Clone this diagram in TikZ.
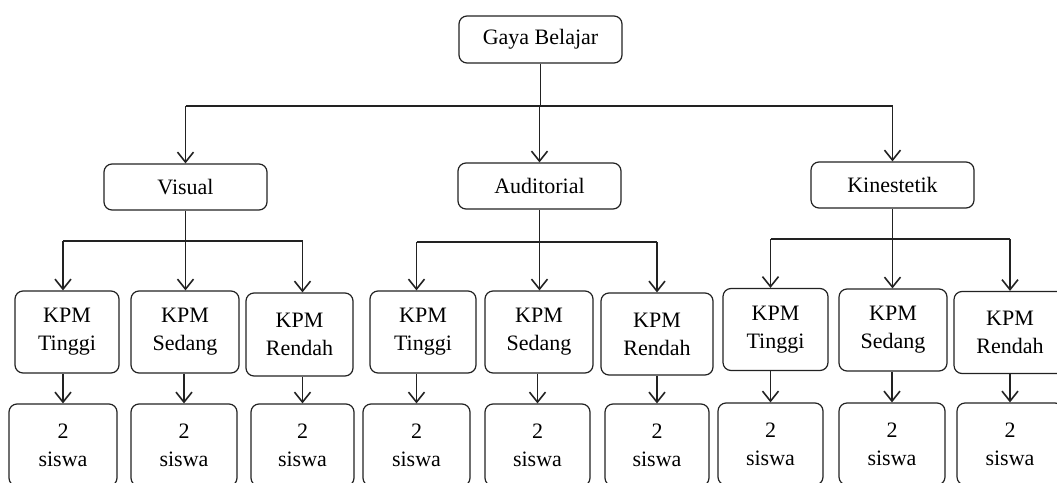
\documentclass[tikz,border=0pt]{standalone}
\usepackage{fontspec}
\setmainfont{Liberation Serif}
\usetikzlibrary{arrows.meta}
\definecolor{ln}{HTML}{222222}
\begin{document}
\begin{tikzpicture}[x=1pt,y=-1pt,
  box/.style={draw=ln,line width=1.2pt,rounded corners=8pt,inner sep=0pt,
    align=center,font=\fontsize{22}{28}\selectfont,text=black},
  top/.style={box,minimum width=163pt,minimum height=46pt},
  kpm/.style={box,minimum height=82pt},
  res/.style={box,minimum height=82pt},
  line/.style={draw=ln,line width=1.6pt},
  arr/.style={line,-{Straight Barb[length=10pt,width=16pt,line width=1.6pt]}}]
\useasboundingbox (0,0) rectangle (1057,482);
\clip (0,0) rectangle (1057,482);
% level 0 and 1
\node[top,minimum height=47pt] (g) at (540.5,39.5) {Gaya Belajar};
\node[top] (v) at (185.5,187) {Visual};
\node[top] (a) at (539.5,186) {Auditorial};
\node[top] (k) at (892.5,185) {Kinestetik};
% KPM boxes
\node[kpm,minimum width=104pt] (vt) at (67,332) {KPM\\Tinggi};
\node[kpm,minimum width=108pt] (vs) at (185,332) {KPM\\Sedang};
\node[kpm,minimum width=107pt,minimum height=83pt] (vr) at (299.5,334.5) {KPM\\Rendah};
\node[kpm,minimum width=106pt] (at) at (423,332) {KPM\\Tinggi};
\node[kpm,minimum width=108pt] (as) at (539,332) {KPM\\Sedang};
\node[kpm,minimum width=112pt] (ar) at (657,334) {KPM\\Rendah};
\node[kpm,minimum width=105pt] (kt) at (775.5,329.5) {KPM\\Tinggi};
\node[kpm,minimum width=108pt] (ks) at (893,330) {KPM\\Sedang};
\node[kpm,minimum width=112pt] (kr) at (1010,332.5) {KPM\\Rendah};
% result boxes
\node[res,minimum width=108pt] (vtb) at (63,445) {2\\siswa};
\node[res,minimum width=106pt] (vsb) at (184,445) {2\\siswa};
\node[res,minimum width=103pt] (vrb) at (302.5,445) {2\\siswa};
\node[res,minimum width=107pt] (atb) at (416.5,445) {2\\siswa};
\node[res,minimum width=105pt] (asb) at (537.5,445) {2\\siswa};
\node[res,minimum width=104pt] (arb) at (657,445) {2\\siswa};
\node[res,minimum width=105pt] (ktb) at (770.5,444) {2\\siswa};
\node[res,minimum width=106pt] (ksb) at (892,444) {2\\siswa};
\node[res,minimum width=106pt] (krb) at (1010,444) {2\\siswa};
% level 0 -> 1
\draw[line] (g.south) -- (g.south |- 0,106);
\draw[line] (v.north |- 0,106) -- (k.north |- 0,106);
\draw[arr] (v.north |- 0,106) -- (v.north);
\draw[arr] (a.north |- 0,106) -- (a.north);
\draw[arr] (k.north |- 0,106) -- (k.north);
% level 1 -> 2 (Visual)
\draw[line] (v.south) -- (v.south |- 0,241);
\draw[line] (vtb.north |- 0,241) -- (vrb.north |- 0,241);
\draw[arr] (vtb.north |- 0,241) -- (vt.north -| vtb.north);
\draw[arr] (v.south |- 0,241) -- (vs.north -| v.south);
\draw[arr] (vrb.north |- 0,241) -- (vr.north -| vrb.north);
% Auditorial
\draw[line] (a.south) -- (a.south |- 0,242);
\draw[line] (atb.north |- 0,242) -- (arb.north |- 0,242);
\draw[arr] (atb.north |- 0,242) -- (at.north -| atb.north);
\draw[arr] (a.south |- 0,242) -- (as.north -| a.south);
\draw[arr] (arb.north |- 0,242) -- (ar.north -| arb.north);
% Kinestetik
\draw[line] (k.south) -- (k.south |- 0,239);
\draw[line] (ktb.north |- 0,239) -- (krb.north |- 0,239);
\draw[arr] (ktb.north |- 0,239) -- (kt.north -| ktb.north);
\draw[arr] (k.south |- 0,239) -- (ks.north -| k.south);
\draw[arr] (krb.north |- 0,239) -- (kr.north -| krb.north);
% level 2 -> 3
\draw[arr] (vt.south -| vtb.north) -- (vtb.north);
\draw[arr] (vs.south -| vsb.north) -- (vsb.north);
\draw[arr] (vr.south -| vrb.north) -- (vrb.north);
\draw[arr] (at.south -| atb.north) -- (atb.north);
\draw[arr] (as.south -| asb.north) -- (asb.north);
\draw[arr] (ar.south -| arb.north) -- (arb.north);
\draw[arr] (kt.south -| ktb.north) -- (ktb.north);
\draw[arr] (ks.south -| ksb.north) -- (ksb.north);
\draw[arr] (kr.south -| krb.north) -- (krb.north);
\end{tikzpicture}
\end{document}
